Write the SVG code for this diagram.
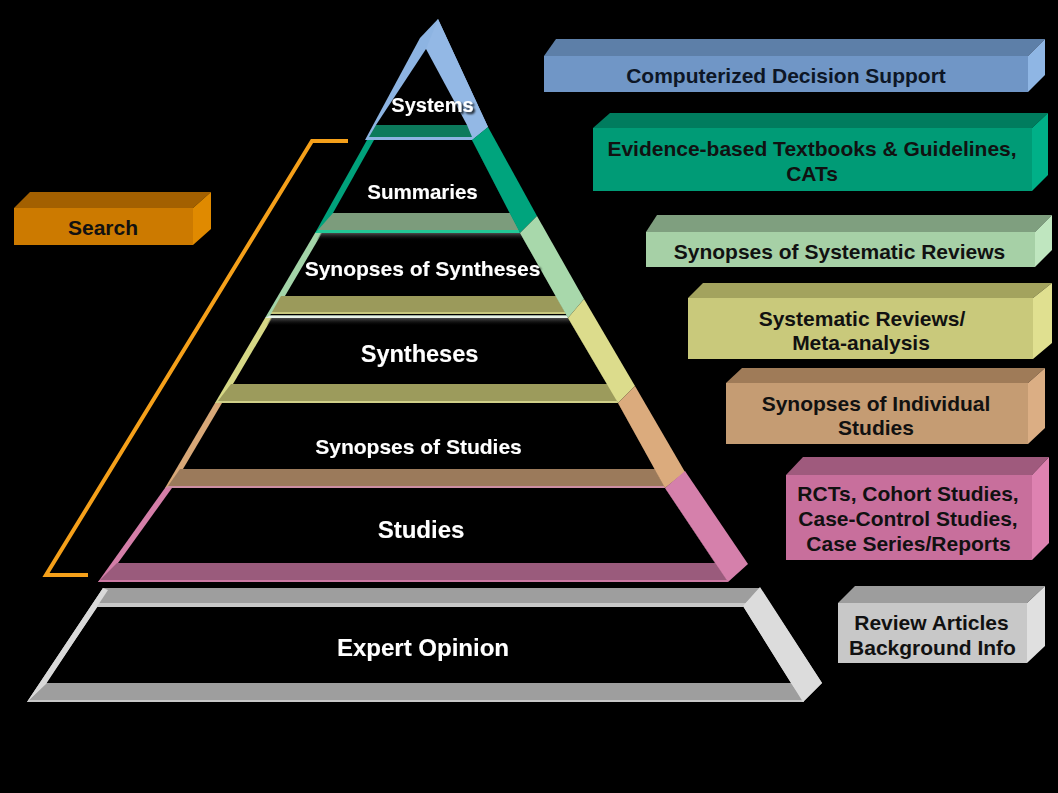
<svg xmlns="http://www.w3.org/2000/svg" width="1058" height="793" viewBox="0 0 1058 793">
<defs>
<style>
.lbl{font-family:"Liberation Sans",Arial,sans-serif;font-weight:bold;fill:#ffffff;text-anchor:middle;filter:url(#sh)}
.btx{font-family:"Liberation Sans",Arial,sans-serif;font-weight:bold;font-size:21px;fill:#111111;text-anchor:middle}
.blk{fill:#000000}
</style>
<filter id="sh" x="-10%" y="-30%" width="130%" height="180%">
<feDropShadow dx="2" dy="2" stdDeviation="1" flood-color="#000000" flood-opacity="0.9"/>
</filter>
<linearGradient id="shade" x1="0" y1="0" x2="0" y2="1">
<stop offset="0" stop-color="#606060" stop-opacity="0.8"/>
<stop offset="1" stop-color="#000000" stop-opacity="0"/>
</linearGradient>
</defs>
<rect width="1058" height="793" fill="#000000"/>

<!-- Pyramid -->
<g id="level-systems">
<polygon points="420,38 438,19 488,127 472,140 365,140" fill="#8db4e2"/>
<polygon points="438,19 488,127 472,140 426,49" fill="#93b8e5"/>
<polygon class="blk" points="426,49 467,125 376,125"/>
<polygon points="376,125 467,125 472,137 369,137" fill="#0c7a5c"/>
<text class="lbl" x="432.5" y="112" font-size="20">Systems</text>
</g>

<g id="level-summaries">
<polygon points="367,140 472,140 520,233 315,233" fill="#00a17b"/>
<polygon class="blk" points="374,140 472,140 510,213 333,213"/>
<polygon points="333,213 510,213 519,230 318,230" fill="#7c9c7c"/>
<polygon points="318,230 519,230 520,233 315,233" fill="#22c896"/>
<polygon points="472,140 488,127 537,216 520,233" fill="#00a47d"/>
<text class="lbl" x="422.5" y="199" font-size="20.5">Summaries</text>
</g>

<g id="level-synopses-syntheses">
<polygon points="315,233 520,233 568,318 265,318" fill="#a3d4a8"/>
<polygon class="blk" points="322,233 520,233 556,296 285,296"/>
<polygon points="321,233 520,233 524,241 316,241" fill="url(#shade)"/>
<polygon points="281,296 556,296 565,312 272,312" fill="#9b9a5b"/>
<polygon points="272,312 565,312 566,314 271,314" fill="#c8c87e"/>
<polygon class="blk" points="271,314 566,314 567,315.5 270,315.5"/>
<polygon points="270,315.5 567,315.5 568,318 265,318" fill="#e8f2e8"/>
<polygon points="520,233 537,216 584,299 568,318" fill="#a8d8ab"/>
<text class="lbl" x="422.5" y="275.5" font-size="21">Synopses of Syntheses</text>
</g>

<g id="level-syntheses">
<polygon points="265,318 568,318 618,403 215,403" fill="#d6d886"/>
<polygon class="blk" points="272,318 568,318 607,384 233,384"/>
<polygon points="271,318 568,318 572,326 266,326" fill="url(#shade)"/>
<polygon points="231,384 610,384 617,401 218,401" fill="#9c9b5c"/>
<polygon points="218,401 617,401 618,403 215,403" fill="#d0d088"/>
<polygon points="568,318 584,299 635,386 618,403" fill="#dcdc8c"/>
<text class="lbl" x="419.5" y="362" font-size="23.5">Syntheses</text>
</g>

<g id="level-synopses-studies">
<polygon points="215,403 618,403 665,488 165,488" fill="#d8a878"/>
<polygon class="blk" points="222,403 618,403 655,469 183,469"/>
<polygon points="180,469 655,469 664,486 168,486" fill="#9b7a5b"/>
<polygon points="168,486 664,486 665,488 165,488" fill="#cc8ea4"/>
<polygon points="618,403 635,386 685,472 665,488" fill="#dbab7d"/>
<text class="lbl" x="418.5" y="453.5" font-size="21">Synopses of Studies</text>
</g>

<g id="level-studies">
<polygon points="165,488 665,488 728,582 98,582" fill="#d47ea8"/>
<polygon class="blk" points="172,488 665,488 715,563 118,563"/>
<polygon points="117,563 716,563 727,580 100,580" fill="#9a5b7c"/>
<polygon points="100,580 727,580 728,582 98,582" fill="#cc79a3"/>
<polygon points="665,488 685,471 748,564 728,582" fill="#d580ab"/>
<text class="lbl" x="421" y="537.5" font-size="24">Studies</text>
</g>

<g id="level-expert-opinion">
<polygon points="103,588 760,588 822,683 803,702 27,702" fill="#d9d9d9"/>
<polygon class="blk" points="98,606 743,606 791,683 46,683"/>
<polygon points="103,588 760,588 746,603 94,603" fill="#9e9e9e"/>
<polygon points="94,603 746,603 743,607 91,607" fill="#c8c8c8"/>
<polygon points="46,683 791,683 803,700 29,700" fill="#9e9e9e"/>
<polygon points="29,700 803,700 804,702 27,702" fill="#c8c8c8"/>
<polygon points="103,588 108,590 46,684 27,702" fill="#d9d9d9"/>
<polygon points="743,606 760,587 822,683 803,702" fill="#dcdcdc"/>
<text class="lbl" x="423" y="655.5" font-size="24">Expert Opinion</text>
</g>

<!-- Right-hand boxes -->
<g id="box-computerized">
<polygon points="544,56 556,39 1045,39 1028,56" fill="#5d7fa8"/>
<polygon points="1028,56 1045,39 1045,75 1028,92" fill="#8fb6e4"/>
<rect x="544" y="56" width="484" height="36" fill="#7096c6"/>
<text class="btx" x="786" y="82.5" fill="#0d1626" style="fill:#0d1626">Computerized Decision Support</text>
</g>

<g id="box-evidence">
<polygon points="593,128 610,113 1048,113 1032,128" fill="#007c5e"/>
<polygon points="1032,128 1048,113 1048,175 1032,191" fill="#00b088"/>
<rect x="593" y="128" width="439" height="63" fill="#009b76"/>
<text class="btx" x="812" y="155.5">Evidence-based Textbooks &amp; Guidelines,</text>
<text class="btx" x="812" y="180.5">CATs</text>
</g>

<g id="box-synopses-reviews">
<polygon points="646,232 657,215 1052,215 1035,232" fill="#7f9f7f"/>
<polygon points="1035,232 1052,215 1052,250 1035,267" fill="#bfe6bf"/>
<rect x="646" y="232" width="389" height="35" fill="#a6d0a6"/>
<text class="btx" x="839.5" y="258.5">Synopses of Systematic Reviews</text>
</g>

<g id="box-systematic-reviews">
<polygon points="688,298 703,283 1052,283 1033,298" fill="#a3a35e"/>
<polygon points="1033,298 1052,283 1052,343 1033,359" fill="#e0e090"/>
<rect x="688" y="298" width="345" height="61" fill="#c9c97b"/>
<text class="btx" x="862" y="325.5">Systematic Reviews/</text>
<text class="btx" x="861" y="349.5">Meta-analysis</text>
</g>

<g id="box-synopses-individual">
<polygon points="726,383 742,368 1045,368 1028,383" fill="#9f7b58"/>
<polygon points="1028,383 1045,368 1045,428 1028,444" fill="#dbae84"/>
<rect x="726" y="383" width="302" height="61" fill="#c59c73"/>
<text class="btx" x="876" y="410.5">Synopses of Individual</text>
<text class="btx" x="876" y="434.5">Studies</text>
</g>

<g id="box-rcts">
<polygon points="786,475 803,457 1049,457 1032,475" fill="#9f5a7d"/>
<polygon points="1032,475 1049,457 1049,543 1032,560" fill="#de82b1"/>
<rect x="786" y="475" width="246" height="85" fill="#c86f9c"/>
<text class="btx" x="908" y="500.5">RCTs, Cohort Studies,</text>
<text class="btx" x="908" y="525.5">Case-Control Studies,</text>
<text class="btx" x="908.5" y="550.5">Case Series/Reports</text>
</g>

<g id="box-review-articles">
<polygon points="838,603 855,586 1045,586 1027,603" fill="#9d9d9d"/>
<polygon points="1027,603 1045,586 1045,646 1027,663" fill="#e0e0e0"/>
<rect x="838" y="603" width="189" height="60" fill="#c8c8c8"/>
<text class="btx" x="931.5" y="629.5">Review Articles</text>
<text class="btx" x="932.5" y="654.5">Background Info</text>
</g>

<g id="box-search">
<polygon points="14,208 30,192 211,192 193,208" fill="#a36000"/>
<polygon points="193,208 211,192 211,229 193,245" fill="#e08a00"/>
<rect x="14" y="208" width="179" height="37" fill="#cc7a00"/>
<text class="btx" x="103" y="234.5">Search</text>
</g>

<g id="connectors">
<path d="M348,141 H312 L46,575 H88" fill="none" stroke="#f5a01a" stroke-width="4" stroke-linejoin="miter"/>
</g>
</svg>
